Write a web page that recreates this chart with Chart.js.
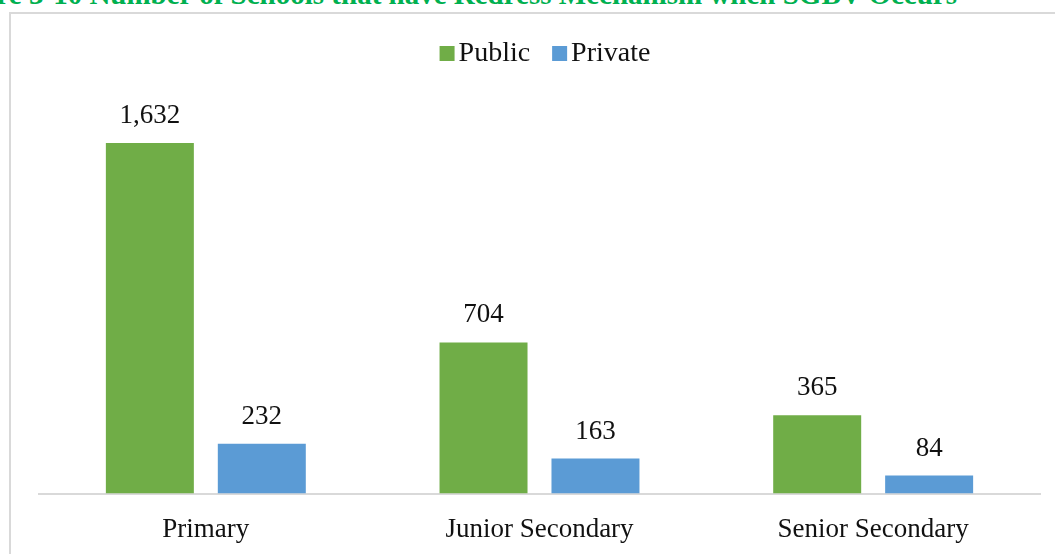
<!DOCTYPE html>
<html>
<head>
<meta charset="utf-8">
<script src="https://cdn.jsdelivr.net/npm/chart.js@4/dist/chart.umd.min.js"></script>
<style>
html,body{margin:0;padding:0;background:#fff;width:1055px;height:554px;overflow:hidden;position:relative;}
#title{position:absolute;right:98px;top:-20px;font:bold 29px "Liberation Serif",serif;line-height:29px;color:#00B050;white-space:nowrap;}
#frame{position:absolute;left:9px;top:12px;width:1200px;height:700px;border-left:2px solid #D9D9D9;border-top:2px solid #D9D9D9;}
#wrap{position:absolute;left:0;top:0;width:1055px;height:554px;overflow:hidden;}
</style>
</head>
<body>
<div id="title">Figure 3-10 Number of Schools that have Redress Mechanism when SGBV Occurs</div>
<div id="frame"></div>
<div id="wrap"><canvas id="c" width="1055" height="575"></canvas></div>
<script>
const categories = ["Primary", "Junior Secondary", "Senior Secondary"];
const seriesNames = ["Public", "Private"];
const publicValues = [1632, 704, 365];
const privateValues = [232, 163, 84];
const seriesColors = ["#70AD47", "#5B9BD5"];

const FONT = '"Liberation Serif", "Times New Roman", serif';

const valueLabels = {
  id: 'valueLabels',
  afterDatasetsDraw(chart) {
    const ctx = chart.ctx;
    ctx.save();
    ctx.font = '27px ' + FONT;
    ctx.fillStyle = '#111';
    ctx.textAlign = 'center';
    ctx.textBaseline = 'alphabetic';
    chart.data.datasets.forEach((ds, i) => {
      chart.getDatasetMeta(i).data.forEach((bar, j) => {
        ctx.fillText(ds.data[j].toLocaleString('en-US'), bar.x, bar.y - 20);
      });
    });
    ctx.restore();
  }
};

const customLegend = {
  id: 'customLegend',
  afterDraw(chart) {
    const ctx = chart.ctx;
    ctx.save();
    ctx.font = '28px ' + FONT;
    ctx.textBaseline = 'alphabetic';
    const box = 15, gapBox = 4, gapItem = 22;
    const items = chart.data.datasets.map(ds => ({label: ds.label, color: ds.backgroundColor, w: ctx.measureText(ds.label).width}));
    let total = 0;
    items.forEach((it, k) => { total += box + gapBox + it.w + (k ? gapItem : 0); });
    let x = 545 - total / 2;
    const base = 61;
    items.forEach((it, k) => {
      if (k) x += gapItem;
      ctx.fillStyle = it.color;
      ctx.fillRect(x, base - 15, box, box);
      x += box + gapBox;
      ctx.fillStyle = '#111';
      ctx.fillText(it.label, x, base);
      x += it.w;
    });
    ctx.restore();
  }
};

new Chart(document.getElementById('c'), {
  type: 'bar',
  data: {
    labels: categories,
    datasets: [
      {label: seriesNames[0], data: publicValues, backgroundColor: seriesColors[0], categoryPercentage: 0.671, barPercentage: 0.786},
      {label: seriesNames[1], data: privateValues, backgroundColor: seriesColors[1], categoryPercentage: 0.671, barPercentage: 0.786}
    ]
  },
  options: {
    responsive: false,
    animation: false,
    layout: {padding: {left: 39, right: 15, top: 107, bottom: 9}},
    plugins: {legend: {display: false}, tooltip: {enabled: false}, title: {display: false}},
    scales: {
      x: {
        grid: {display: false, drawTicks: false},
        border: {display: true, color: '#D9D9D9', width: 2},
        ticks: {color: '#111', font: {family: FONT, size: 27}, padding: 20}
      },
      y: {display: false, min: 0, max: 1800}
    }
  },
  plugins: [valueLabels, customLegend]
});
</script>
</body>
</html>
